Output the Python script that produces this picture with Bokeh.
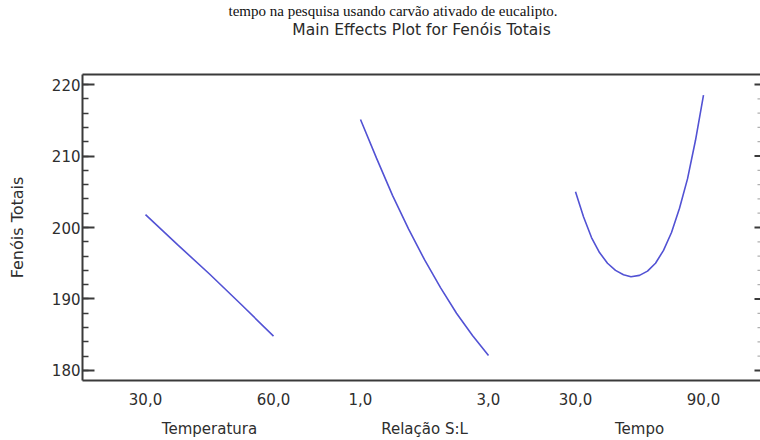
import math
from bokeh.plotting import figure
from bokeh.models import (LinearAxis, FixedTicker, SingleIntervalTicker,
                          Range1d, Title)
from bokeh.embed import file_html
from bokeh.resources import INLINE

# ---------------- data ----------------
factor_names = ["Temperatura", "Relação S:L", "Tempo"]
factor_lows = [30.0, 1.0, 30.0]
factor_highs = [60.0, 3.0, 90.0]
tick_labels = [["30,0", "60,0"], ["1,0", "3,0"], ["30,0", "90,0"]]

temperatura_x = [30.0, 37.5, 45.0, 52.5, 60.0]
temperatura_y = [201.8, 197.6, 193.5, 189.2, 184.8]

relacao_x = [1.0, 1.25, 1.5, 1.75, 2.0, 2.25, 2.5, 2.75, 3.0]
relacao_y = [215.1, 209.7, 204.5, 199.8, 195.5, 191.6, 188.0, 184.9, 182.1]

tempo_x = [30.0, 33.75, 37.5, 41.25, 45.0, 48.75, 52.5, 56.0, 60.0,
           63.75, 67.5, 71.25, 75.0, 78.75, 82.5, 86.25, 90.0]
tempo_y = [205.0, 201.5, 198.6, 196.5, 195.0, 194.0, 193.4, 193.1, 193.3,
           193.9, 195.0, 196.8, 199.3, 202.7, 206.8, 212.2, 218.5]

y_major_ticks = [180, 190, 200, 210, 220]
y_minor_step = 2

series_x = [temperatura_x, relacao_x, tempo_x]
series_y = [temperatura_y, relacao_y, tempo_y]

title_text = "Main Effects Plot for Fenóis Totais"
caption_text = "tempo na pesquisa usando carvão ativado de eucalipto."
y_label = "Fenóis Totais"

# ---------------- layout of the shared x axis ----------------
PANEL_W = 128
PERIOD = 215


def to_u(i, v):
    lo, hi = factor_lows[i], factor_highs[i]
    return i * PERIOD + (v - lo) / (hi - lo) * PANEL_W


TEXT = "#2e2e2e"
AXC = "#3a3a3a"
LINEC = "#5252d4"
FONT = "DejaVu Sans"

p = figure(width=760, height=440, output_backend="svg", toolbar_location=None,
           x_range=Range1d(-63, 615), y_range=Range1d(178.6, 221.4),
           x_axis_location=None, y_axis_location=None,
           min_border_left=82, min_border_right=0,
           min_border_top=74, min_border_bottom=60)
p.title = None
p.outline_line_color = None
p.background_fill_color = "white"
p.border_fill_color = "white"
p.xgrid.grid_line_color = None
p.ygrid.grid_line_color = None

for i in range(3):
    xs = [to_u(i, v) for v in series_x[i]]
    p.line(xs, series_y[i], line_color=LINEC, line_width=1.6)

# mirrored tick marks on the right edge of the frame (pointing inward)
x_edge = p.x_range.end
minor_ticks = [t for t in range(y_major_ticks[0], y_major_ticks[-1] + 1, y_minor_step)
               if t not in y_major_ticks]
p.ray(x=[x_edge] * len(minor_ticks), y=minor_ticks, length=3, length_units="screen",
      angle=math.pi, line_color="#b0b0b0", line_width=1.2)
p.ray(x=[x_edge] * len(y_major_ticks), y=y_major_ticks, length=6, length_units="screen",
      angle=math.pi, line_color=AXC, line_width=2)

# left axis
yax = LinearAxis(ticker=SingleIntervalTicker(interval=10, num_minor_ticks=5),
                 axis_label=y_label)
yax.axis_line_color = AXC
yax.axis_line_width = 2
yax.major_tick_in = 12
yax.major_tick_out = 0
yax.minor_tick_in = 6
yax.minor_tick_out = 0
yax.major_tick_line_color = AXC
yax.major_tick_line_width = 2
yax.minor_tick_line_color = AXC
yax.minor_tick_line_width = 1.5
yax.major_label_standoff = 2
yax.major_label_text_font = FONT
yax.major_label_text_font_size = "15px"
yax.major_label_text_color = TEXT
yax.axis_label_text_font = FONT
yax.axis_label_text_font_size = "16px"
yax.axis_label_text_font_style = "normal"
yax.axis_label_text_color = TEXT
yax.axis_label_standoff = 22
p.add_layout(yax, "left")

# top border
tax = LinearAxis(ticker=FixedTicker(ticks=[]))
tax.axis_line_color = AXC
tax.axis_line_width = 2
tax.major_tick_line_color = None
tax.minor_tick_line_color = None
tax.major_tick_in = 0
tax.major_tick_out = 0
tax.major_label_standoff = 0
p.add_layout(tax, "above")

# bottom axis with level labels
tick_pos = []
overrides = {}
for i in range(3):
    for v, lab in zip([factor_lows[i], factor_highs[i]], tick_labels[i]):
        u = int(round(to_u(i, v)))
        tick_pos.append(u)
        overrides[u] = lab
bax = LinearAxis(ticker=FixedTicker(ticks=tick_pos, minor_ticks=[]))
bax.major_label_overrides = overrides
bax.axis_line_color = AXC
bax.axis_line_width = 2
bax.major_tick_line_color = None
bax.minor_tick_line_color = None
bax.major_tick_in = 0
bax.major_tick_out = 0
bax.major_label_standoff = 12
bax.major_label_text_font = FONT
bax.major_label_text_font_size = "15px"
bax.major_label_text_color = TEXT
p.add_layout(bax, "below")

# second bottom axis with factor names
name_pos = []
name_over = {}
for i in range(3):
    u = int(round((to_u(i, factor_lows[i]) + to_u(i, factor_highs[i])) / 2))
    name_pos.append(u)
    name_over[u] = factor_names[i]
nax = LinearAxis(ticker=FixedTicker(ticks=name_pos, minor_ticks=[]))
nax.major_label_overrides = name_over
nax.axis_line_color = None
nax.major_tick_line_color = None
nax.minor_tick_line_color = None
nax.major_tick_in = 0
nax.major_tick_out = 0
nax.major_label_standoff = 12
nax.major_label_text_font = FONT
nax.major_label_text_font_size = "15px"
nax.major_label_text_color = TEXT
p.add_layout(nax, "below")

# titles stacked above the frame: spacer (nearest frame), title, caption (top)
p.add_layout(Title(text=" ", align="center", standoff=23,
                   text_font=FONT, text_font_size="10px"), "above")
p.add_layout(Title(text=title_text, align="center", standoff=0,
                   text_font=FONT, text_font_size="15.5px",
                   text_font_style="normal", text_color="#2a2a2a"), "above")
p.add_layout(Title(text=caption_text, align="left", offset=146, standoff=0,
                   text_font="Liberation Serif", text_font_size="15px",
                   text_font_style="normal", text_color="#111111"), "above")

open("out.html", "w").write(file_html(p, INLINE))
